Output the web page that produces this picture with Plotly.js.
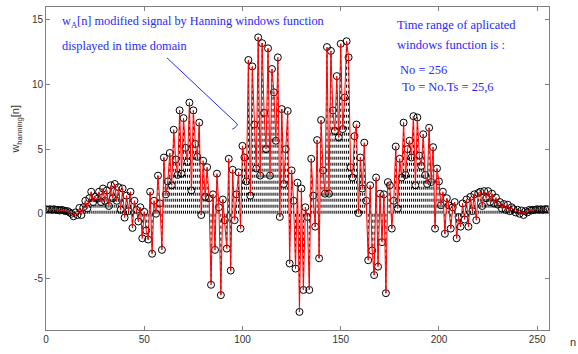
<!DOCTYPE html>
<html>
<head>
<meta charset="utf-8">
<script src="https://cdn.plot.ly/plotly-3.0.1.min.js"></script>
<style>html,body{margin:0;padding:0;background:#fff;}#plot{width:578px;height:354px;}</style>
</head>
<body>
<div id="plot"></div>
<script>
// sample values w_hanning[n], n = 0..255
const w = [
0.35,0.3,0.35,0.3,0.35,0.3,0.3,0.25,0.3,0.25,
0.2,0.2,0.1,0.0,-0.2,0.1,-0.1,0.45,-0.1,0.5,
1.0,0.4,1.2,1.7,0.9,1.3,1.15,1.7,0.9,1.95,
1.0,1.8,0.6,2.2,1.2,2.3,1.0,2.05,0.3,1.95,
-0.3,1.4,0.2,1.7,-1.1,1.0,0.3,-0.6,0.5,-1.9,
0.15,-1.3,-2.0,1.7,-3.1,1.0,0.0,2.95,0.8,-2.8,
4.35,1.5,2.5,4.7,2.2,6.5,4.2,3.0,8.0,3.1,
7.4,5.1,4.0,8.6,1.8,8.0,5.4,4.4,7.05,-0.1,
4.1,1.3,3.6,1.2,-5.5,1.5,-2.8,3.1,0.5,-6.3,
1.1,-0.5,-2.7,4.25,-4.4,3.4,-0.5,1.5,3.2,-1.15,
5.25,4.35,2.5,11.9,1.4,11.4,6.9,3.5,13.65,2.95,
13.2,7.8,5.0,12.8,2.95,11.2,9.4,5.65,12.1,-0.25,
8.1,2.3,5.0,7.95,-3.85,3.35,1.0,-4.25,2.4,-7.6,
1.95,-5.9,0.5,-0.25,-5.9,4.25,1.4,-1.0,5.7,-3.45,
7.25,3.35,1.55,12.9,1.55,12.6,8.0,6.4,10.65,5.9,
13.15,6.55,9.0,13.35,12.1,3.6,2.8,6.0,6.9,0.05,
4.35,1.95,5.5,1.0,-3.6,2.2,-2.85,-4.75,2.8,-4.1,
1.55,-2.2,1.5,-6.15,2.45,2.2,-1.15,1.0,5.2,0.4,
4.25,2.8,7.05,3.0,5.0,5.65,4.35,7.55,2.2,7.45,
4.5,3.7,6.15,3.0,2.3,6.65,2.45,5.15,-1.15,3.5,
2.5,0.65,1.7,-1.55,1.2,0.65,-1.15,0.5,0.9,-1.9,
-0.25,-1.0,0.8,-0.45,1.1,-1.0,1.3,0.2,1.5,-0.5,
1.6,1.7,0.6,1.75,1.2,1.75,0.9,1.55,0.8,1.25,
0.7,0.9,0.4,0.75,0.3,0.7,0.2,0.5,0.35,0.1,
0.3,0.0,0.25,-0.1,0.2,0.1,0.3,0.25,0.3,0.3,
0.35,0.3,0.35,0.3,0.35,0.35
];
const n = w.map((_, i) => i);
const xTicks = [0, 50, 100, 150, 200, 250];
const yTicks = [-5, 0, 5, 10, 15];

// stems built from the data arrays
const sx = [], sy = [];
n.forEach((k, i) => { sx.push(k, k, null); sy.push(0, w[i], null); });

const traces = [
  {x: sx, y: sy, mode: 'lines', line: {color: '#000', width: 1, dash: 'dot'}, hoverinfo: 'skip'},
  {x: n, y: w, mode: 'markers', marker: {symbol: 'circle-open', size: 7, color: '#000', line: {width: 1, color: '#000'}}},
  {x: n, y: w, mode: 'lines', line: {color: '#ff0000', width: 1}}
];

const blue = 'rgb(40,40,255)';
const serif = 'Liberation Serif, Times New Roman, serif';
const layout = {
  width: 578, height: 354,
  margin: {l: 46, r: 29, t: 7, b: 24},
  paper_bgcolor: '#ffffff', plot_bgcolor: '#ffffff',
  showlegend: false,
  font: {family: 'Liberation Sans, Arial, sans-serif', size: 10, color: '#333'},
  xaxis: {range: [0, 256], tickvals: xTicks, ticktext: xTicks.map(String), ticks: 'inside', ticklen: 4,
          tickcolor: '#808080', showline: true, linecolor: '#808080', linewidth: 1, mirror: 'ticks',
          showgrid: false, zeroline: false, tickfont: {size: 10, color: '#333'}},
  yaxis: {range: [-9, 16], tickvals: yTicks, ticktext: yTicks.map(String), ticks: 'inside', ticklen: 4,
          tickcolor: '#808080', showline: true, linecolor: '#808080', linewidth: 1, mirror: 'ticks',
          showgrid: false, zeroline: false, tickfont: {size: 10, color: '#333'}},
  shapes: [
    {type: 'path', xref: 'x', yref: 'y', path: 'M 61.6 12.06 L 97.3 6.95 Q 97.6 6.75 94.8 6.55', line: {color: blue, width: 1}}
  ],
  annotations: [
    {xref: 'paper', yref: 'paper', x: (60-46)/503, y: (331-22)/324, xanchor: 'left', yanchor: 'middle', showarrow: false,
     text: 'w<sub>A</sub>[n] modified signal by Hanning windows function', font: {family: serif, size: 12.3, color: blue}},
    {xref: 'paper', yref: 'paper', x: (60-46)/503, y: (331-46)/324, xanchor: 'left', yanchor: 'middle', showarrow: false,
     text: 'displayed in time domain', font: {family: serif, size: 12.3, color: blue}},
    {xref: 'paper', yref: 'paper', x: (395-46)/503, y: (331-25)/324, xanchor: 'left', yanchor: 'middle', showarrow: false,
     text: 'Time range of aplicated', font: {family: serif, size: 12.5, color: blue}},
    {xref: 'paper', yref: 'paper', x: (395-46)/503, y: (331-45)/324, xanchor: 'left', yanchor: 'middle', showarrow: false,
     text: 'windows function is :', font: {family: serif, size: 12.5, color: blue}},
    {xref: 'paper', yref: 'paper', x: (398-46)/503, y: (331-70)/324, xanchor: 'left', yanchor: 'middle', showarrow: false,
     text: 'No = 256', font: {family: serif, size: 12.5, color: blue}},
    {xref: 'paper', yref: 'paper', x: (400-46)/503, y: (331-87)/324, xanchor: 'left', yanchor: 'middle', showarrow: false,
     text: 'To = No.Ts = 25,6', font: {family: serif, size: 12.5, color: blue}},
    {xref: 'paper', yref: 'paper', x: (16-46)/503, y: (331-130)/324, xanchor: 'center', yanchor: 'middle', showarrow: false,
     textangle: -90, text: 'w<sub>hanning</sub>[n]', font: {size: 11, color: '#333'}},
    {xref: 'paper', yref: 'paper', x: (568-46)/503, y: (331-343)/324, xanchor: 'left', yanchor: 'middle', showarrow: false,
     text: 'n', font: {size: 11, color: '#333'}}
  ]
};

Plotly.newPlot('plot', traces, layout, {displayModeBar: false, staticPlot: true});
</script>
</body>
</html>
